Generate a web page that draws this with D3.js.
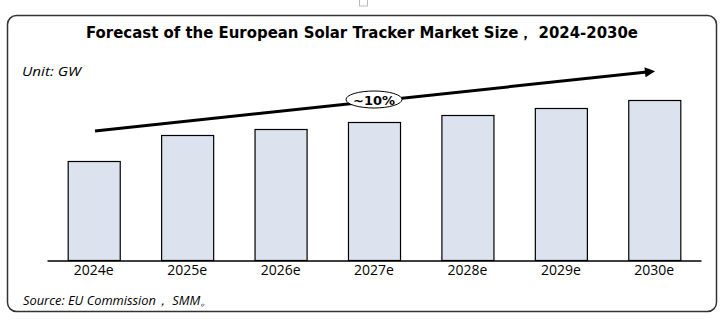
<!DOCTYPE html>
<html lang="en">
<head>
    <meta charset="UTF-8">
    <title>European Solar Tracker Market Size</title>
    <style>
        body { margin: 0; background: #fff; }
    </style>
</head>
<body>
<div id="chart"></div>

<script src="https://d3js.org/d3.v7.min.js"></script>

<script>
    // data (GW)
    var years = ["2024e", "2025e", "2026e", "2027e", "2028e", "2029e", "2030e"];
    var values = [9.9, 12.5, 13.1, 13.8, 14.5, 15.2, 16.0];
    var cagrLabel = "~10%";

    var W = 728, H = 321;

    var svg = d3.select("#chart").append("svg")
        .attr("width", W)
        .attr("height", H);

    // little handle square at the top
    svg.append("rect")
        .attr("x", 359.5).attr("y", -2)
        .attr("width", 8).attr("height", 8)
        .attr("fill", "#fff").attr("stroke", "#bbb");

    // rounded frame
    svg.append("rect")
        .attr("x", 7.5).attr("y", 15.5)
        .attr("width", 709).attr("height", 296)
        .attr("rx", 9).attr("ry", 9)
        .attr("fill", "none")
        .attr("stroke", "#333")
        .attr("stroke-width", 1.5);

    svg.append("text")
        .attr("x", 362).attr("y", 38)
        .attr("text-anchor", "middle")
        .attr("textLength", 552)
        .attr("lengthAdjust", "spacingAndGlyphs")
        .style("font-family", "'DejaVu Sans', sans-serif")
        .style("font-weight", "bold")
        .style("font-size", "15px")
        .text("Forecast of the European Solar Tracker Market Size， 2024-2030e");

    svg.append("text")
        .attr("x", 22).attr("y", 76)
        .attr("textLength", 59)
        .attr("lengthAdjust", "spacingAndGlyphs")
        .style("font-family", "'Open Sans', sans-serif")
        .style("font-style", "italic")
        .style("font-size", "13px")
        .text("Unit:  GW");

    svg.append("text")
        .attr("x", 23).attr("y", 305)
        .attr("textLength", 190)
        .attr("lengthAdjust", "spacingAndGlyphs")
        .style("font-family", "'Open Sans', sans-serif")
        .style("font-style", "italic")
        .style("font-size", "13px")
        .text("Source: EU Commission， SMM。");

    var x = d3.scaleBand().domain(years).range([47, 701]).paddingInner(0.443).paddingOuter(0.2215);
    var y = d3.scaleLinear().domain([0, 16]).range([260, 100]);

    // bars
    svg.append("g").selectAll("rect")
        .data(values).enter()
        .append("rect")
        .attr("x", function (d, i) { return x(years[i]) + 0.5; })
        .attr("y", function (d) { return y(d) + 0.5; })
        .attr("width", x.bandwidth())
        .attr("height", function (d) { return y(0) - y(d); })
        .attr("fill", "#dce3ee")
        .attr("stroke", "#000")
        .attr("stroke-width", 1.2);

    // x axis
    var xAxis = svg.append("g")
        .attr("transform", "translate(0,260.5)")
        .call(d3.axisBottom(x).tickSize(0).tickPadding(5));
    xAxis.select(".domain").attr("stroke", "#000").attr("stroke-width", 1.3);
    xAxis.selectAll("text")
        .style("font-family", "'Open Sans', sans-serif")
        .style("font-size", "14px")
        .attr("fill", "#000");

    // growth arrow
    svg.append("defs").append("marker")
        .attr("id", "arrow")
        .attr("viewBox", "0 0 10 10")
        .attr("refX", 2).attr("refY", 5)
        .attr("markerWidth", 4).attr("markerHeight", 3.4)
        .attr("orient", "auto")
        .append("path")
        .attr("d", "M0,0 L10,5 L0,10 Z")
        .attr("fill", "#000");

    svg.append("line")
        .attr("x1", 95).attr("y1", 131)
        .attr("x2", 647).attr("y2", 72)
        .attr("stroke", "#000")
        .attr("stroke-width", 3)
        .attr("marker-end", "url(#arrow)");

    svg.append("ellipse")
        .attr("cx", 374).attr("cy", 99.5)
        .attr("rx", 28).attr("ry", 8.5)
        .attr("fill", "#fff")
        .attr("stroke", "#000")
        .attr("stroke-width", 1);

    svg.append("text")
        .attr("x", 374).attr("y", 104.5)
        .attr("text-anchor", "middle")
        .style("font-family", "'DejaVu Sans', sans-serif")
        .style("font-weight", "bold")
        .style("font-size", "13px")
        .text(cagrLabel);
</script>

</body>
</html>
